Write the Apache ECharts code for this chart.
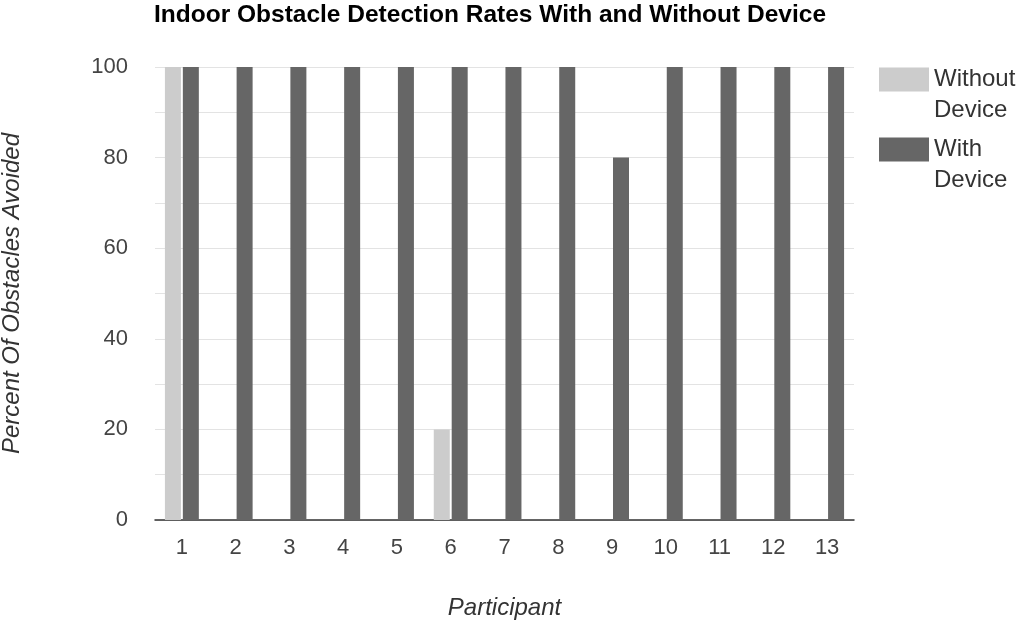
<!DOCTYPE html>
<html>
<head>
<meta charset="utf-8">
<script src="https://cdn.jsdelivr.net/npm/echarts@6/dist/echarts.min.js"></script>
<style>html,body{margin:0;padding:0;background:#fff;}#c{width:1024px;height:623px;}</style>
</head>
<body>
<div id="c"></div>
<script>
const categories = ['1','2','3','4','5','6','7','8','9','10','11','12','13'];
const withoutDevice = [100,0,0,0,0,20,0,0,0,0,0,0,0];
const withDevice = [100,100,100,100,100,100,100,100,80,100,100,100,100];
const seriesNames = ['Without Device','With Device'];
const legendLabels = ['\nWithout\nDevice','\nWith\nDevice'];

const chart = echarts.init(document.getElementById('c'));
const font = 'Liberation Sans, Arial, sans-serif';
const legendText = {
  fontFamily: font, fontSize: 24, color: '#333', lineHeight: 31
};
chart.setOption({
  animation: false,
  title: {
    text: 'Indoor Obstacle Detection Rates With and Without Device',
    left: 490, top: 3, textAlign: 'center', padding: 0,
    textStyle: {fontFamily: font, fontSize: 24.5, fontWeight: 'bold', color: '#000'}
  },
  legend: [
    {data: [seriesNames[0]], orient: 'vertical', left: 879, top: 33, padding: 0,
     itemWidth: 50, itemHeight: 24, icon: 'rect', itemStyle: {borderWidth: 0},
     formatter: () => legendLabels[0], textStyle: legendText},
    {data: [seriesNames[1]], orient: 'vertical', left: 879, top: 103, padding: 0,
     itemWidth: 50, itemHeight: 24, icon: 'rect', itemStyle: {borderWidth: 0},
     formatter: () => legendLabels[1], textStyle: legendText}
  ],
  grid: {left: 155, right: 170, top: 67, bottom: 103, containLabel: false, outerBoundsMode: 'none'},
  xAxis: {
    type: 'category', data: categories,
    name: 'Participant', nameLocation: 'middle', nameGap: 76,
    nameTextStyle: {fontFamily: font, fontSize: 24, fontStyle: 'italic', color: '#333'},
    axisLine: {lineStyle: {color: '#333', width: 1.5}},
    axisTick: {show: false},
    axisLabel: {fontFamily: font, fontSize: 22, color: '#444', margin: 17}
  },
  yAxis: {
    type: 'value', min: 0, max: 100, interval: 20,
    name: 'Percent Of Obstacles Avoided', nameLocation: 'middle', nameGap: 131,
    nameTextStyle: {fontFamily: font, fontSize: 24, fontStyle: 'italic', color: '#333'},
    axisLine: {show: false}, axisTick: {show: false},
    axisLabel: {fontFamily: font, fontSize: 22, color: '#444', margin: 27},
    splitLine: {lineStyle: {color: '#e3e3e3', width: 1}},
    minorTick: {show: false, splitNumber: 2},
    minorSplitLine: {show: true, lineStyle: {color: '#e3e3e3', width: 1}}
  },
  series: [
    {name: seriesNames[0], type: 'bar', data: withoutDevice, barWidth: 16, barGap: '12%',
     itemStyle: {color: '#cccccc'}},
    {name: seriesNames[1], type: 'bar', data: withDevice, barWidth: 16,
     itemStyle: {color: '#666666'}}
  ]
});
</script>
</body>
</html>
